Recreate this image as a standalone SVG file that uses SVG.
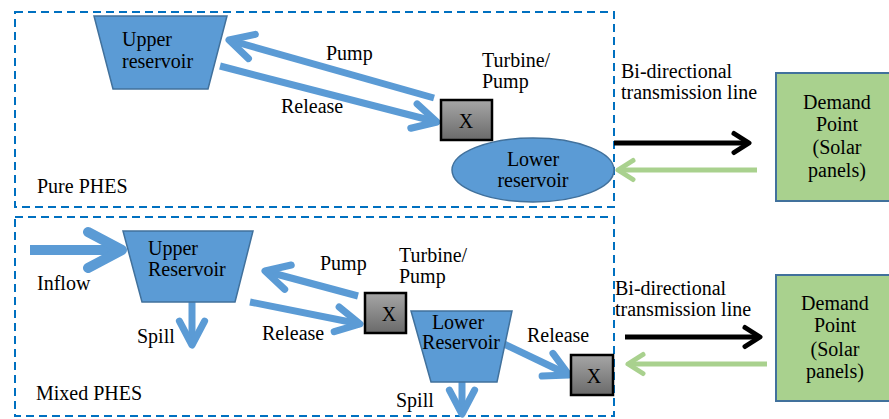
<svg xmlns="http://www.w3.org/2000/svg" width="889" height="419" viewBox="0 0 889 419">
<style>
text{font-family:"Liberation Serif","Times New Roman",serif;font-size:20px;fill:#000}
.c{text-anchor:middle}
.frame{fill:none;stroke:#0070c0;stroke-width:2;stroke-dasharray:8 5}
.res{fill:#5b9bd5;stroke:#41719c;stroke-width:1.5}
.tb{fill:url(#g);stroke:#000;stroke-width:2.5}
.dp{fill:#a9d18e;stroke:#41719c;stroke-width:2}
.ba{fill:none;stroke:#5b9bd5;stroke-width:7;marker-end:url(#mb)}
.ka{fill:none;stroke:#000;stroke-width:5;marker-end:url(#mk)}
.ga{fill:none;stroke:#a9d18e;stroke-width:5;marker-end:url(#mg)}
</style>
<defs>
<linearGradient id="g" x1="0" y1="0" x2="0" y2="1"><stop offset="0" stop-color="#a6a6a6"/><stop offset="1" stop-color="#6a6a6a"/></linearGradient>
<marker id="mb" markerUnits="strokeWidth" orient="auto" overflow="visible" markerWidth="1" markerHeight="1" refX="0" refY="0"><path d="M-3.4,-1.8 L0,0 L-3.4,1.8" fill="none" stroke="#5b9bd5" stroke-width="1" stroke-linejoin="round" stroke-linecap="round"/></marker>
<marker id="mk" markerUnits="strokeWidth" orient="auto" overflow="visible" markerWidth="1" markerHeight="1" refX="0" refY="0"><path d="M-3,-1.9 L0,0 L-3,1.9" fill="none" stroke="#000" stroke-width="1" stroke-linejoin="round" stroke-linecap="round"/></marker>
<marker id="mg" markerUnits="strokeWidth" orient="auto" overflow="visible" markerWidth="1" markerHeight="1" refX="0" refY="0"><path d="M-3,-1.9 L0,0 L-3,1.9" fill="none" stroke="#a9d18e" stroke-width="1" stroke-linejoin="round" stroke-linecap="round"/></marker>
</defs>

<g id="pure-phes">
<rect class="frame" x="15" y="12" width="599" height="195"/>
<text x="37" y="193">Pure PHES</text>
</g>
<g id="mixed-phes">
<rect class="frame" x="15" y="217" width="599" height="199"/>
<text x="36" y="400">Mixed PHES</text>
</g>

<g id="connectors">
<line class="ba" x1="434" y1="98" x2="229" y2="40"/>
<line class="ba" x1="220" y1="66" x2="437" y2="122"/>
<line class="ka" x1="614" y1="143" x2="749" y2="143"/>
<line class="ga" x1="757" y1="170" x2="618" y2="170"/>
<line class="ba" x1="30" y1="250" x2="122" y2="250" style="stroke-width:10"/>
<line class="ba" x1="192" y1="302" x2="192" y2="345"/>
<line class="ba" x1="358" y1="296" x2="265" y2="271"/>
<line class="ba" x1="250" y1="302" x2="360" y2="324"/>
<line class="ba" x1="462" y1="382" x2="462" y2="414"/>
<line class="ba" x1="502" y1="343" x2="569" y2="375"/>
<line class="ka" x1="625" y1="337" x2="760" y2="337"/>
<line class="ga" x1="767" y1="364" x2="628" y2="364"/>
<text x="326" y="60">Pump</text>
<text x="281" y="113">Release</text>
<text x="621" y="78">Bi-directional</text>
<text x="621" y="99">transmission line</text>
<text x="37" y="290">Inflow</text>
<text x="137" y="343">Spill</text>
<text x="320" y="270">Pump</text>
<text x="262" y="340">Release</text>
<text x="527" y="342">Release</text>
<text x="396" y="407">Spill</text>
<text x="615" y="295">Bi-directional</text>
<text x="615" y="316">transmission line</text>
</g>

<g id="upper-reservoir-1">
<polygon class="res" points="94,16 227,16 208,89 113,89"/>
<text x="122" y="46">Upper</text>
<text x="122" y="68">reservoir</text>
</g>
<g id="turbine-1">
<rect class="tb" x="441" y="100" width="51" height="40"/>
<text class="c" x="466" y="128">X</text>
<text x="482" y="67">Turbine/</text>
<text x="482" y="88">Pump</text>
</g>
<g id="lower-reservoir-1">
<ellipse class="res" cx="533" cy="170" rx="81" ry="32"/>
<text class="c" x="533" y="166">Lower</text>
<text class="c" x="533" y="187">reservoir</text>
</g>
<g id="demand-1">
<rect class="dp" x="776" y="73" width="130" height="128"/>
<text class="c" x="837" y="109">Demand</text>
<text class="c" x="837" y="131">Point</text>
<text class="c" x="837" y="154">(Solar</text>
<text class="c" x="837" y="177">panels)</text>
</g>

<g id="upper-reservoir-2">
<polygon class="res" points="123,231 253,231 235,302 142,302"/>
<text x="148" y="255">Upper</text>
<text x="148" y="276">Reservoir</text>
</g>
<g id="turbine-2">
<rect class="tb" x="365" y="293" width="41" height="40"/>
<text class="c" x="389" y="321">X</text>
<text x="399" y="262">Turbine/</text>
<text x="399" y="283">Pump</text>
</g>
<g id="lower-reservoir-2">
<polygon class="res" points="411,311 512,311 497,382 431,382"/>
<text class="c" x="458" y="329">Lower</text>
<text class="c" x="461" y="349">Reservoir</text>
</g>
<g id="turbine-3">
<rect class="tb" x="571" y="355" width="42" height="40"/>
<text class="c" x="594" y="383">X</text>
</g>
<g id="demand-2">
<rect class="dp" x="776" y="275" width="130" height="126"/>
<text class="c" x="835" y="310">Demand</text>
<text class="c" x="835" y="332">Point</text>
<text class="c" x="835" y="356">(Solar</text>
<text class="c" x="835" y="378">panels)</text>
</g>
</svg>
